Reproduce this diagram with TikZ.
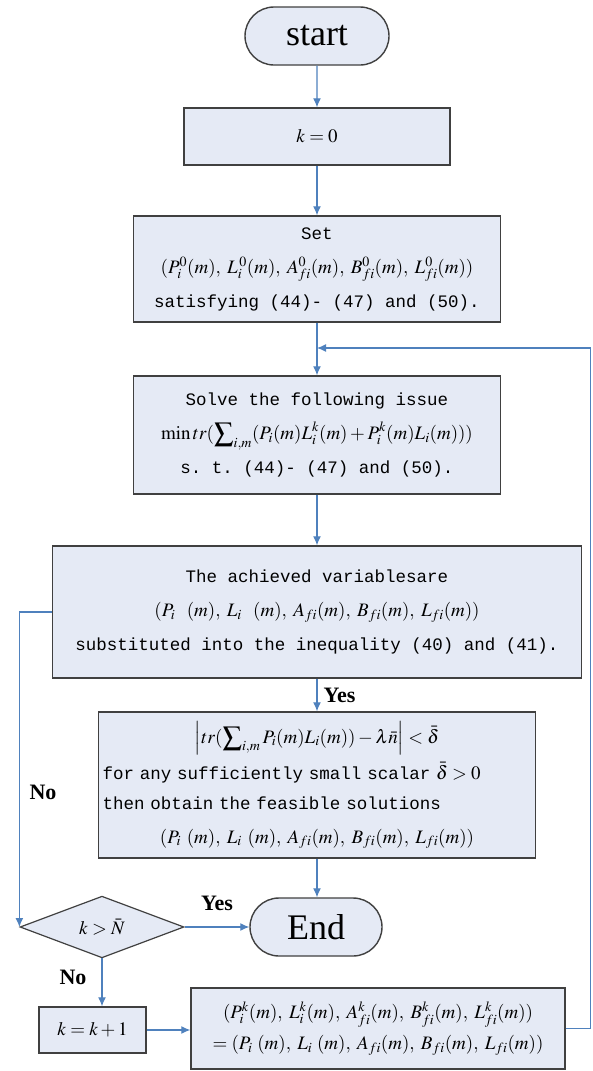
\documentclass[tikz,border=0pt]{standalone}
\usepackage{mathptmx}
\usepackage{fontspec}
\setmainfont{Liberation Serif}
\setmonofont{Liberation Mono}
\usetikzlibrary{shapes.misc,shapes.geometric,arrows.meta}
\definecolor{boxfill}{RGB}{229,234,245}
\definecolor{boxline}{RGB}{64,64,64}
\definecolor{arrowcol}{RGB}{79,129,189}
\newcommand\mfs{\fontsize{19}{34}\selectfont}
\newcommand\cm{,\;}
\begin{document}
\begin{tikzpicture}[x=1pt,y=-1pt,
  procbox/.style={draw=boxline, line width=1.4pt, fill=boxfill, inner sep=2pt, align=center,
    font=\ttfamily\fontsize{17.5}{34}\selectfont},
  term/.style={draw=boxline, line width=1.4pt, fill=boxfill, rounded rectangle, inner sep=0pt,
    font=\fontsize{36}{40}\selectfont},
  decision/.style={draw=boxline, line width=1.2pt, fill=boxfill, diamond, inner sep=0pt,
    font=\fontsize{19}{20}\selectfont},
  flow/.style={draw=arrowcol, line width=1.2pt, -{Latex[length=9pt,width=8pt]}},
  lbl/.style={font=\bfseries\fontsize{22}{24}\selectfont}
]
\useasboundingbox (0,0) rectangle (593,1071);

\node[term, minimum width=144pt, minimum height=58pt] (start) at (317,36) {start};
\node[procbox, minimum width=266pt, minimum height=57pt, font=\fontsize{19}{20}\selectfont] (k0) at (317,136.5) {$k=0$};
\node[procbox, minimum width=367pt, minimum height=106pt] (set) at (317,269)
  {Set\\ \mfs$(P_i^0(m)\cm L_i^{\,0}(m)\cm A_{fi}^0(m)\cm B_{fi}^0(m)\cm L_{fi}^0(m))$\\ satisfying (44)- (47) and (50).};
\node[procbox, minimum width=367pt, minimum height=118pt] (solve) at (317,435)
  {Solve the following issue\\ \mfs$\min tr(\displaystyle\sum\nolimits_{i,m}(P_i(m)L_i^k(m)+P_i^k(m)L_i(m)))$\\ s. t. (44)- (47) and (50).};
\node[procbox, minimum width=529pt, minimum height=132pt] (ach) at (317,612)
  {The achieved variablesare\\ \mfs$(P_i\ (m)\cm L_i\ (m)\cm A_{fi}(m)\cm B_{fi}(m)\cm L_{fi}(m))$\\ substituted into the inequality (40) and (41).};
\node[procbox, minimum width=437pt, minimum height=146pt, text width=429pt, align=left] (feas) at (317,785)
  {\makebox[429pt]{\mfs$\left|tr(\displaystyle\sum\nolimits_{i,m} P_i(m)L_i(m))-\lambda\bar{n}\right|<\bar{\delta}$}\\[2pt]
   for any sufficiently small scalar {\mfs$\bar{\delta}>0$}\\[-4pt]
   then obtain the feasible solutions\\[0pt]
   \makebox[429pt]{\mfs$(P_i\ (m)\cm L_i\ (m)\cm A_{fi}(m)\cm B_{fi}(m)\cm L_{fi}(m))$}};
\node[term, minimum width=132pt, minimum height=58pt] (end) at (316,927) {End};
\node[decision, minimum width=164pt, minimum height=57pt] (dia) at (102,927) {$k>\bar{N}$};
\node[procbox, minimum width=107pt, minimum height=46pt, font=\fontsize{19}{20}\selectfont] (kk1) at (92.5,1030) {$k=k+1$};
\node[procbox, minimum width=374pt, minimum height=81pt, font=\fontsize{19}{31}\selectfont] (last) at (378,1028.5)
  {$(P_i^k(m)\cm L_i^k(m)\cm A_{fi}^k(m)\cm B_{fi}^k(m)\cm L_{fi}^k(m))$\\ $=(P_i\ (m)\cm L_i\ (m)\cm A_{fi}(m)\cm B_{fi}(m)\cm L_{fi}(m))$};

\coordinate (merge) at (317,348);
\draw[flow] (start) -- (k0);
\draw[flow] (k0) -- (set);
\draw[flow] (set) -- (solve);
\draw[flow] (last.east) -- ++(25,0) |- (merge);
\draw[flow] (solve) -- (ach);
\draw[flow] (ach) -- (feas);
\draw[flow] (feas.south) -- (feas.south |- end.north);
\draw[flow] (ach.west) -| (dia.west);
\draw[flow] (dia.east) -- (end.west);
\draw[flow] (dia.south) -- (dia.south |- kk1.north);
\draw[flow] (kk1.east) -- (kk1.east -| last.west);

\node[lbl, anchor=west] (yes1) at (320,695) {Yes};
\node[lbl] (no1) at (43,792) {No};
\node[lbl] (yes2) at (217,903) {Yes};
\node[lbl] (no2) at (73,977) {No};
\end{tikzpicture}
\end{document}
